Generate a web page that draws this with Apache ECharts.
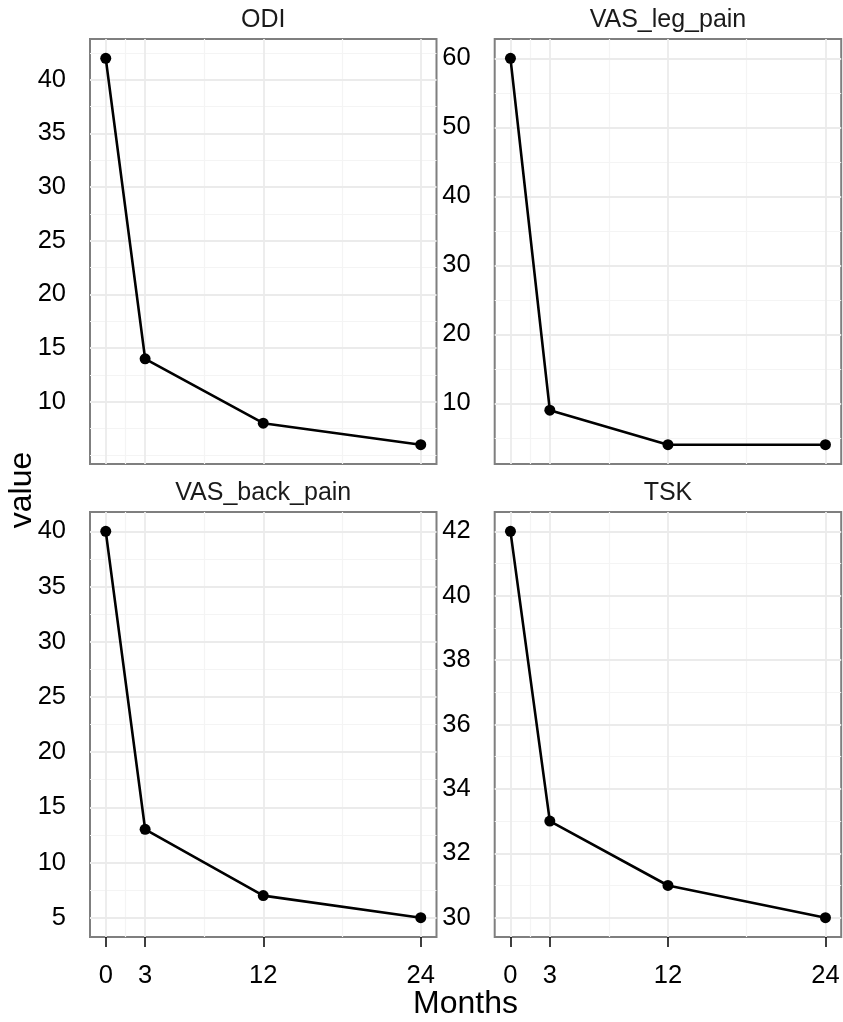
<!DOCTYPE html>
<html>
<head>
<meta charset="utf-8">
<script src="https://cdn.jsdelivr.net/npm/echarts@6/dist/echarts.min.js"></script>
<style>
  html, body { margin: 0; padding: 0; background: #fff; }
  #chart { width: 843px; height: 1022px; }
</style>
</head>
<body>
<div id="chart"></div>
<script>
// data
const months = [0, 3, 12, 24];
const odi = [42, 14, 8, 6];
const vasLeg = [60, 9, 4, 4];
const vasBack = [40, 13, 7, 5];
const tsk = [42, 33, 31, 30];

// axis breaks (major / minor grid)
const xTicks = [0, 3, 12, 24];
const xMinor = [1.5, 7.5, 18];
const odiTicks = [10, 15, 20, 25, 30, 35, 40];
const odiMinor = [5, 7.5, 12.5, 17.5, 22.5, 27.5, 32.5, 37.5, 42.5];
const legTicks = [10, 20, 30, 40, 50, 60];
const legMinor = [5, 15, 25, 35, 45, 55];
const backTicks = [5, 10, 15, 20, 25, 30, 35, 40];
const backMinor = [7.5, 12.5, 17.5, 22.5, 27.5, 32.5, 37.5];
const tskTicks = [30, 32, 34, 36, 38, 40, 42];
const tskMinor = [31, 33, 35, 37, 39, 41];

const FONT = 'Liberation Sans';

const panels = [
  { name: 'ODI', vals: odi, ticks: odiTicks, minor: odiMinor, left: 90, top: 39, bottom: false },
  { name: 'VAS_leg_pain', vals: vasLeg, ticks: legTicks, minor: legMinor, left: 494.7, top: 39, bottom: false },
  { name: 'VAS_back_pain', vals: vasBack, ticks: backTicks, minor: backMinor, left: 90, top: 512, bottom: true },
  { name: 'TSK', vals: tsk, ticks: tskTicks, minor: tskMinor, left: 494.7, top: 512, bottom: true },
];
const PW = 346.5, PH = 425;

function expand(vals) {
  const lo = Math.min(...vals), hi = Math.max(...vals);
  const pad = (hi - lo) * 0.05;
  return [lo - pad, hi + pad];
}
const xPad = (Math.max(...months) - Math.min(...months)) * 0.05;

const grid = [], xAxis = [], yAxis = [], series = [], graphic = [];

panels.forEach((p, i) => {
  const [ymin, ymax] = expand(p.vals);
  grid.push({
    left: p.left, top: p.top, width: PW, height: PH,
    show: true, borderColor: '#7f7f7f', borderWidth: 2, backgroundColor: '#fff',
    containLabel: false, outerBoundsMode: 'none'
  });
  xAxis.push({
    type: 'value', gridIndex: i, min: -xPad, max: 24 + xPad,
    axisLine: { show: false },
    splitLine: { show: false },
    axisTick: { show: p.bottom, customValues: xTicks, length: 10, lineStyle: { color: '#000', width: 1.5 } },
    axisLabel: { show: p.bottom, customValues: xTicks, margin: 26, color: '#000', fontSize: 25.5, fontFamily: FONT }
  });
  yAxis.push({
    type: 'value', gridIndex: i, min: ymin, max: ymax,
    axisLine: { show: false },
    splitLine: { show: false },
    axisTick: { show: true, customValues: p.ticks, length: 7, lineStyle: { color: '#4d4d4d', width: 1.5 } },
    axisLabel: { customValues: p.ticks, margin: 24, color: '#000', fontSize: 25.5, fontFamily: FONT }
  });
  const pts = months.map((m, k) => [m, p.vals[k]]);
  const minorStyle = { color: '#f4f4f4', width: 1.2, type: 'solid' };
  const majorStyle = { color: '#ebebeb', width: 1.8, type: 'solid' };
  const lines = []
    .concat(xMinor.map(v => ({ xAxis: v, lineStyle: minorStyle })))
    .concat(p.minor.map(v => ({ yAxis: v, lineStyle: minorStyle })))
    .concat(xTicks.map(v => ({ xAxis: v, lineStyle: majorStyle })))
    .concat(p.ticks.map(v => ({ yAxis: v, lineStyle: majorStyle })));
  // grid lines
  series.push({
    type: 'line', xAxisIndex: i, yAxisIndex: i, data: pts, z: 1,
    showSymbol: false, lineStyle: { opacity: 0 }, silent: true,
    markLine: { z: 1, silent: true, symbol: 'none', label: { show: false }, animation: false, data: lines }
  });
  // the data
  series.push({
    type: 'line', xAxisIndex: i, yAxisIndex: i, data: pts, z: 3,
    symbol: 'circle', symbolSize: 11,
    lineStyle: { color: '#000', width: 2.6 },
    itemStyle: { color: '#000' }
  });
  // strip title
  graphic.push({
    type: 'text', x: p.left + PW / 2, y: p.top - 19,
    style: { text: p.name, font: '25px "' + FONT + '"', fill: '#1a1a1a', align: 'center', verticalAlign: 'middle' }
  });
});

graphic.push({
  type: 'text', x: 465.5, y: 1004,
  style: { text: 'Months', font: '32px "' + FONT + '"', fill: '#000', align: 'center', verticalAlign: 'middle' }
});
graphic.push({
  type: 'text', x: 22, y: 490, rotation: Math.PI / 2,
  style: { text: 'value', font: '32px "' + FONT + '"', fill: '#000', align: 'center', verticalAlign: 'middle' }
});

const chart = echarts.init(document.getElementById('chart'), null, { renderer: 'canvas' });
chart.setOption({
  animation: false,
  backgroundColor: '#fff',
  grid: grid,
  xAxis: xAxis,
  yAxis: yAxis,
  series: series,
  graphic: graphic
});
</script>
</body>
</html>
